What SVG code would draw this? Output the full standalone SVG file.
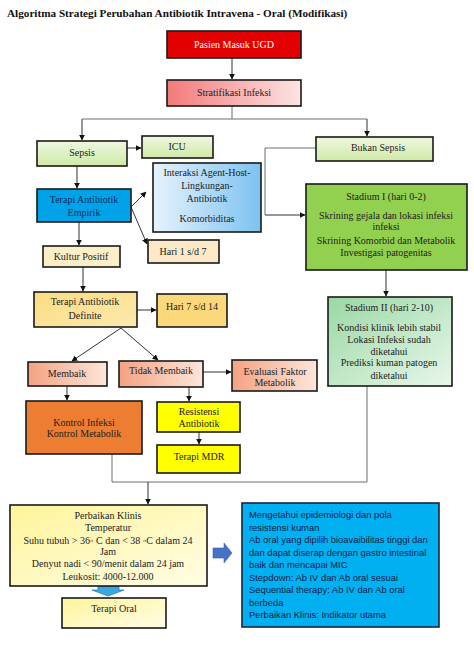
<svg xmlns="http://www.w3.org/2000/svg" width="474" height="646" viewBox="0 0 474 646">
<style>
.t{font-family:"Liberation Serif","Times New Roman",serif;font-size:10px;fill:#222;text-anchor:middle}
.b{stroke:#1a1a1a;stroke-width:1.6}
.c{fill:none;stroke:#6e6e6e;stroke-width:1}
.ca{fill:none;stroke:#333;stroke-width:1;marker-end:url(#ah)}
.s{font-family:"Liberation Sans",Arial,sans-serif;font-size:9.4px;fill:#13204a}
</style>
<defs>
<marker id="ah" viewBox="0 0 10 10" refX="9" refY="5" markerWidth="6" markerHeight="6" markerUnits="userSpaceOnUse" orient="auto"><path d="M0,0 L10,5 L0,10z" fill="#111"/></marker>
<linearGradient id="gRed" x1="0" y1="0" x2="1" y2="0"><stop offset="0" stop-color="#f37a7a"/><stop offset="1" stop-color="#fde3e3"/></linearGradient>
<linearGradient id="gGreen" x1="0" y1="0" x2="0" y2="1"><stop offset="0" stop-color="#eef8e0"/><stop offset="1" stop-color="#cfeaa6"/></linearGradient>
<linearGradient id="gBlue" x1="0" y1="0" x2="1" y2="0"><stop offset="0" stop-color="#e6f3fd"/><stop offset="1" stop-color="#7cc2f0"/></linearGradient>
<linearGradient id="gDef" x1="0" y1="0" x2="1" y2="1"><stop offset="0" stop-color="#fbdc80"/><stop offset="1" stop-color="#fde9ae"/></linearGradient>
<linearGradient id="gSal" x1="0" y1="0" x2="1" y2="0"><stop offset="0" stop-color="#f4a282"/><stop offset="1" stop-color="#fde6da"/></linearGradient>
<linearGradient id="gSt2" x1="0" y1="0" x2="1" y2="1"><stop offset="0" stop-color="#9ad8a4"/><stop offset="1" stop-color="#e8f7ea"/></linearGradient>
<linearGradient id="gYel" x1="0" y1="0" x2="1" y2="1"><stop offset="0" stop-color="#fff49a"/><stop offset="1" stop-color="#fffde6"/></linearGradient>
</defs>
<rect width="474" height="646" fill="#fff"/>
<text x="7" y="17" style="font-family:'Liberation Serif','Times New Roman',serif;font-size:11.2px;font-weight:bold;fill:#111">Algoritma Strategi Perubahan Antibiotik Intravena - Oral (Modifikasi)</text>

<g id="connectors">
<path class="ca" d="M232,58 V79"/>
<path class="c" d="M232,106 V119 M82,119 H367"/>
<path class="ca" d="M82,119 V140"/>
<path class="ca" d="M367,119 V136"/>
<path class="ca" d="M127,148 H141"/>
<path class="ca" d="M77,166 V188"/>
<path class="ca" d="M131,207 L146,192"/>
<path class="ca" d="M131,207 L147,244"/>
<path class="ca" d="M79,222 V245"/>
<path class="ca" d="M83,267 V291"/>
<path class="ca" d="M137,310 H156"/>
<path class="ca" d="M121,328 L72,361"/>
<path class="ca" d="M121,328 L158,360"/>
<path class="ca" d="M203,372 H231"/>
<path class="ca" d="M67,386 V400"/>
<path class="ca" d="M189,387 V401"/>
<path class="ca" d="M199,432 V444"/>
<path class="c" d="M316,148 H265 V215"/>
<path class="ca" d="M265,215 H305"/>
<path class="ca" d="M386,270 V296"/>
<path class="c" d="M112,454 V482 H367 V386"/>
<path class="ca" d="M148,482 V504"/>
<path d="M98,586 H119 V590 H124 L108,596 L92,590 H98 Z" fill="#3aa8e0" stroke="#2a7fb8" stroke-width="0.8"/>
<path d="M213,548 H224 V543 L232,553 L224,563 V558 H213 Z" fill="#4472c4" stroke="#3a62a8" stroke-width="0.6"/>
</g>

<g id="pasien"><rect class="b" x="167" y="31" width="134" height="27" fill="#e30000"/><text class="t" x="234" y="48" style="fill:#fff">Pasien Masuk UGD</text></g>
<g id="stratifikasi"><rect class="b" x="167" y="80" width="134" height="26" fill="url(#gRed)"/><text class="t" x="234" y="96">Stratifikasi Infeksi</text></g>
<g id="sepsis"><rect class="b" x="37" y="141" width="90" height="25" fill="url(#gGreen)"/><text class="t" x="82" y="156">Sepsis</text></g>
<g id="icu"><rect class="b" x="142" y="136" width="71" height="22" fill="url(#gGreen)"/><text class="t" x="177" y="150">ICU</text></g>
<g id="bukan-sepsis"><rect class="b" x="316" y="137" width="117" height="24" fill="url(#gGreen)"/><text class="t" x="378" y="151">Bukan Sepsis</text></g>
<g id="interaksi"><rect class="b" x="153" y="163" width="108" height="69" fill="url(#gBlue)"/>
<text class="t" x="207" y="176">Interaksi Agent-Host-</text><text class="t" x="207" y="189">Lingkungan-</text><text class="t" x="207" y="202">Antibiotik</text><text class="t" x="207" y="222">Komorbiditas</text></g>
<g id="terapi-empirik"><rect class="b" x="37" y="189" width="94" height="33" fill="#00a2e8"/><text class="t" x="84" y="203" style="fill:#0b2a5e">Terapi Antibiotik</text><text class="t" x="84" y="216" style="fill:#0b2a5e">Empirik</text></g>
<g id="hari1"><rect class="b" x="148" y="240" width="71" height="23" fill="#fde9c6"/><text class="t" x="183" y="255">Hari 1 s/d 7</text></g>
<g id="stadium1"><rect class="b" x="306" y="184" width="161" height="86" fill="#92d050"/>
<text class="t" x="386" y="200">Stadium I (hari 0-2)</text><text class="t" x="386" y="219">Skrining gejala dan lokasi infeksi</text><text class="t" x="386" y="230">infeksi</text><text class="t" x="386" y="244">Skrining Komorbid dan Metabolik</text><text class="t" x="386" y="256">Investigasi patogenitas</text></g>
<g id="kultur"><rect class="b" x="43" y="246" width="77" height="21" fill="#fcefc8"/><text class="t" x="81" y="260">Kultur Positif</text></g>
<g id="terapi-definite"><rect class="b" x="34" y="292" width="103" height="35" fill="url(#gDef)"/><text class="t" x="85" y="305">Terapi Antibiotik</text><text class="t" x="85" y="319">Definite</text></g>
<g id="hari7"><rect class="b" x="157" y="294" width="70" height="33" fill="#fbd87a"/><text class="t" x="192" y="310">Hari 7 s/d 14</text></g>
<g id="membaik"><rect class="b" x="28" y="362" width="79" height="24" fill="url(#gSal)"/><text class="t" x="67" y="377">Membaik</text></g>
<g id="tidak-membaik"><rect class="b" x="119" y="361" width="84" height="26" fill="url(#gSal)"/><text class="t" x="161" y="374">Tidak Membaik</text></g>
<g id="evaluasi"><rect class="b" x="232" y="360" width="85" height="31" fill="url(#gSal)"/><text class="t" x="275" y="375">Evaluasi Faktor</text><text class="t" x="275" y="386">Metabolik</text></g>
<g id="stadium2"><rect class="b" x="328" y="297" width="124" height="89" fill="url(#gSt2)"/>
<text class="t" x="389" y="311">Stadium II (hari 2-10)</text><text class="t" x="389" y="331">Kondisi klinik lebih stabil</text><text class="t" x="389" y="343">Lokasi Infeksi sudah</text><text class="t" x="389" y="355">diketahui</text><text class="t" x="389" y="366">Prediksi kuman patogen</text><text class="t" x="389" y="379">diketahui</text></g>
<g id="kontrol"><rect class="b" x="26" y="401" width="116" height="53" fill="#ed7d31"/><text class="t" x="84" y="426">Kontrol Infeksi</text><text class="t" x="84" y="437">Kontrol Metabolik</text></g>
<g id="resistensi"><rect class="b" x="157" y="402" width="83" height="30" fill="#ffff00"/><text class="t" x="199" y="415">Resistensi</text><text class="t" x="199" y="427">Antibiotik</text></g>
<g id="terapi-mdr"><rect class="b" x="157" y="445" width="83" height="28" fill="#ffff00"/><text class="t" x="199" y="460">Terapi MDR</text></g>
<g id="perbaikan"><rect class="b" x="10" y="505" width="197" height="81" fill="url(#gYel)"/>
<text class="t" x="108" y="519">Perbaikan Klinis</text><text class="t" x="108" y="531">Temperatur</text><text class="t" x="108" y="544">Suhu tubuh &gt; 36◦ C dan &lt; 38 ◦C dalam 24</text><text class="t" x="108" y="555">Jam</text><text class="t" x="108" y="567">Denyut nadi &lt; 90/menit dalam 24 jam</text><text class="t" x="108" y="580">Leukosit: 4000-12.000</text></g>
<g id="terapi-oral"><rect class="b" x="62" y="598" width="104" height="30" fill="url(#gYel)"/><text class="t" x="114" y="612">Terapi Oral</text></g>
<g id="info"><rect x="242" y="503" width="197" height="124" fill="#00b0f0" stroke="#1a2540" stroke-width="1.6"/>
<text class="s" x="249" y="518">Mengetahui epidemiologi dan pola</text>
<text class="s" x="249" y="530.5">resistensi kuman</text>
<text class="s" x="249" y="543">Ab oral yang dipilih bioavaibilitas tinggi dan</text>
<text class="s" x="249" y="555.5">dan dapat diserap dengan gastro intestinal</text>
<text class="s" x="249" y="568">baik dan mencapai MIC</text>
<text class="s" x="249" y="580.5">Stepdown: Ab IV dan Ab oral sesuai</text>
<text class="s" x="249" y="593">Sequential therapy: Ab IV dan Ab oral</text>
<text class="s" x="249" y="605.5">berbeda</text>
<text class="s" x="249" y="618">Perbaikan Klinis: Indikator utama</text></g>
</svg>
